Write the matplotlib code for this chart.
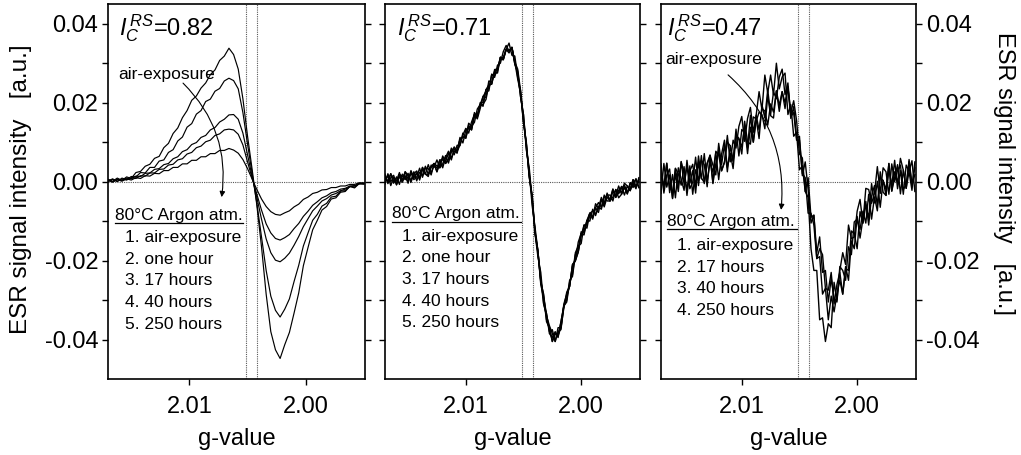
# esr_spectra.py
# ESR spectra after air-exposure and 80 C argon annealing, three samples

import matplotlib
matplotlib.use("Agg")
import matplotlib.pyplot as plt
from matplotlib.lines import Line2D
from matplotlib.ticker import FixedLocator, FormatStrFormatter

plt.rcParams["font.family"] = ["Liberation Sans", "DejaVu Sans"]
plt.rcParams["mathtext.fontset"] = "custom"
plt.rcParams["mathtext.rm"] = "Liberation Sans"
plt.rcParams["mathtext.it"] = "Liberation Sans:italic"

# g-value sampling (left panel read every 0.0004, others every 0.00025)
g_coarse = [2.0170, 2.0166, 2.0162, 2.0158, 2.0154, 2.0150, 2.0146, 2.0142, 2.0138, 2.0134,
            2.0130, 2.0126, 2.0122, 2.0118, 2.0114, 2.0110, 2.0106, 2.0102, 2.0098, 2.0094,
            2.0090, 2.0086, 2.0082, 2.0078, 2.0074, 2.0070, 2.0066, 2.0062, 2.0058, 2.0054,
            2.0050, 2.0046, 2.0042, 2.0038, 2.0034, 2.0030, 2.0026, 2.0022, 2.0018, 2.0014,
            2.0010, 2.0006, 2.0002, 1.9998, 1.9994, 1.9990, 1.9986, 1.9982, 1.9978, 1.9974,
            1.9970, 1.9966, 1.9962, 1.9958, 1.9954, 1.9950]
g_fine = [2.01700, 2.01675, 2.01650, 2.01625, 2.01600, 2.01575, 2.01550, 2.01525, 2.01500, 2.01475,
          2.01450, 2.01425, 2.01400, 2.01375, 2.01350, 2.01325, 2.01300, 2.01275, 2.01250, 2.01225,
          2.01200, 2.01175, 2.01150, 2.01125, 2.01100, 2.01075, 2.01050, 2.01025, 2.01000, 2.00975,
          2.00950, 2.00925, 2.00900, 2.00875, 2.00850, 2.00825, 2.00800, 2.00775, 2.00750, 2.00725,
          2.00700, 2.00675, 2.00650, 2.00625, 2.00600, 2.00575, 2.00550, 2.00525, 2.00500, 2.00475,
          2.00450, 2.00425, 2.00400, 2.00375, 2.00350, 2.00325, 2.00300, 2.00275, 2.00250, 2.00225,
          2.00200, 2.00175, 2.00150, 2.00125, 2.00100, 2.00075, 2.00050, 2.00025, 2.00000, 1.99975,
          1.99950, 1.99925, 1.99900, 1.99875, 1.99850, 1.99825, 1.99800, 1.99775, 1.99750, 1.99725,
          1.99700, 1.99675, 1.99650, 1.99625, 1.99600, 1.99575, 1.99550, 1.99525, 1.99500]

# intensities in units of 1e-3 a.u.
# sample 1, I_C^RS = 0.82
s1_air = [0.6, 0.1, 0.9, 0.3, 1.2, 0.8, 2.3, 2.6, 3.9, 4.4, 5.9, 6.4, 8.6, 9.7, 12.2, 13.6, 16.2, 18.0, 20.6, 21.7,
          23.7, 25.0, 27.1, 28.3, 30.7, 31.8, 33.8, 32.2, 28.5, 21.0, 11.5, 3.0, -6.0, -16.5, -28.5, -38.0, -42.6, -44.8, -41.3, -38.2,
          -33.3, -28.2, -21.3, -16.7, -12.2, -9.8, -7.2, -6.3, -4.4, -4.1, -2.7, -2.5, -1.2, -1.6, -0.5, -0.6]
s1_1h = [0.2, 0.7, 0.0, 0.9, 0.5, 1.3, 1.2, 2.3, 2.2, 3.6, 3.6, 5.2, 5.5, 7.4, 8.1, 10.3, 11.3, 13.8, 14.7, 17.1,
         18.0, 20.3, 20.9, 22.9, 23.6, 25.5, 26.2, 25.6, 23.5, 17.5, 9.5, 2.0, -5.5, -14.0, -22.5, -29.0, -32.6, -34.3, -32.3, -29.7,
         -25.3, -21.2, -16.3, -13.0, -9.8, -8.3, -6.2, -5.5, -3.9, -3.7, -2.4, -2.3, -1.2, -1.4, -0.4, -0.6]
s1_17h = [0.5, -0.1, 0.6, 0.3, 0.9, 0.7, 1.4, 1.3, 2.1, 2.2, 3.1, 3.3, 4.3, 4.6, 5.8, 6.3, 7.6, 8.1, 9.4, 9.9,
          11.2, 11.7, 13.1, 13.7, 15.1, 15.8, 16.9, 17.0, 15.8, 12.3, 6.8, 1.2, -4.0, -9.5, -14.5, -18.0, -19.9, -20.3, -19.4, -18.1,
          -16.1, -13.9, -11.4, -9.4, -7.4, -6.2, -4.9, -4.3, -3.4, -3.0, -2.3, -1.9, -1.3, -1.1, -0.6, -0.5]
s1_40h = [0.0, 0.6, 0.1, 0.7, 0.4, 1.0, 0.8, 1.5, 1.4, 2.2, 2.2, 3.1, 3.2, 4.2, 4.4, 5.5, 5.8, 7.0, 7.4, 8.6,
          9.0, 10.1, 10.5, 11.7, 12.1, 13.1, 13.3, 13.1, 12.0, 9.3, 5.0, 0.8, -3.2, -7.2, -10.7, -13.0, -14.4, -14.8, -14.2, -13.4,
          -11.9, -10.6, -8.8, -7.5, -6.0, -5.1, -4.1, -3.6, -2.8, -2.5, -1.9, -1.7, -1.1, -1.0, -0.5, -0.4]
s1_250h = [0.3, -0.1, 0.5, 0.1, 0.7, 0.4, 1.0, 0.8, 1.5, 1.4, 2.1, 2.0, 2.8, 2.8, 3.6, 3.6, 4.5, 4.5, 5.4, 5.4,
           6.3, 6.3, 7.1, 7.1, 7.9, 7.9, 8.4, 8.0, 7.2, 5.6, 3.3, 0.6, -2.0, -4.4, -6.3, -7.6, -8.3, -8.5, -7.9, -7.4,
           -6.4, -5.7, -4.5, -3.9, -3.0, -2.7, -2.1, -2.0, -1.5, -1.5, -1.1, -1.1, -0.7, -0.7, -0.3, -0.3]

# sample 2, I_C^RS = 0.71
s2_air = [1.4, 0.0, 2.0, -0.4, 1.2, -0.7, 1.9, 1.0, 0.1, 2.8, 1.0, 2.2, 0.4, 3.1, 1.9, 4.3, 2.2, 4.1, 3.5, 5.5,
          3.5, 6.1, 7.7, 6.0, 7.8, 7.2, 10.7, 11.3, 11.0, 14.8, 14.1, 15.0, 18.4, 19.5, 19.1, 23.3, 23.5, 27.2, 26.4, 29.5,
          30.0, 32.9, 34.5, 33.1, 34.0, 29.8, 27.5, 21.5, 17.0, 8.5, 2.5, -6.0, -11.5, -17.5, -25.0, -29.0, -35.5, -37.0, -40.5, -38.5,
          -39.0, -35.5, -31.5, -30.0, -25.0, -24.0, -18.5, -17.3, -12.7, -13.0, -10.3, -8.0, -9.5, -6.6, -5.3, -6.5, -3.4, -4.9, -4.9, -2.4,
          -3.5, -1.1, -3.2, -1.4, -3.1, -0.3, -0.5, -1.8, 1.0]
s2_1h = [-0.6, 2.0, 0.0, 1.1, -0.8, 1.8, 0.4, 2.5, 1.6, 0.3, 2.5, 0.2, 2.4, 1.6, 3.9, 1.8, 3.7, 4.6, 2.5, 4.5,
         6.0, 4.6, 5.7, 8.5, 6.8, 9.2, 9.2, 11.8, 13.5, 12.3, 15.1, 17.0, 15.9, 18.5, 21.6, 21.3, 25.5, 25.2, 27.9, 27.5,
         31.5, 30.9, 33.5, 35.1, 32.0, 31.8, 26.5, 23.0, 15.0, 9.5, 1.5, -4.0, -13.0, -19.0, -23.0, -31.0, -34.0, -36.5, -38.5, -40.5,
         -37.0, -37.0, -32.0, -28.0, -26.5, -21.0, -20.0, -17.8, -13.7, -11.0, -11.8, -8.0, -7.5, -8.1, -6.8, -4.0, -5.9, -3.4, -3.4, -4.9,
         -2.0, -3.1, -1.7, -0.9, -2.6, -1.8, 0.5, -1.3, 0.0]
s2_17h = [1.9, -0.5, 1.0, 1.6, -0.8, 1.3, -0.1, 2.5, 0.6, 2.3, 0.5, 1.2, 3.4, 1.1, 3.4, 3.3, 1.7, 4.6, 4.0, 3.5,
          6.5, 5.1, 7.2, 5.5, 8.3, 7.7, 10.7, 11.3, 11.5, 14.3, 13.1, 16.5, 16.4, 20.0, 20.1, 23.3, 24.5, 24.7, 27.9, 28.5,
          31.5, 31.4, 33.5, 32.6, 34.0, 30.3, 28.5, 23.0, 15.5, 9.5, 1.0, -3.5, -12.5, -17.5, -26.0, -29.5, -33.5, -38.5, -39.5, -38.0,
          -39.5, -35.5, -31.5, -30.5, -25.5, -23.5, -18.0, -16.3, -15.7, -11.0, -10.8, -8.5, -9.0, -5.6, -6.8, -4.5, -6.4, -3.9, -4.4, -1.9,
          -4.0, -2.6, -1.2, -3.4, -1.1, -2.3, 0.5, -1.3, 0.5]
s2_40h = [0.9, 0.0, 2.0, 0.1, -0.3, 1.8, 1.4, 0.5, 2.1, -0.2, 2.0, 2.7, 0.9, 3.6, 1.9, 1.8, 3.7, 4.6, 2.5, 5.5,
          5.5, 4.6, 5.7, 8.0, 8.3, 7.7, 11.2, 9.8, 13.0, 13.8, 13.6, 17.5, 16.4, 19.5, 21.6, 22.8, 23.0, 27.2, 26.9, 28.0,
          31.5, 30.9, 33.5, 33.1, 34.0, 29.8, 28.0, 21.5, 17.0, 8.0, 3.5, -4.5, -13.0, -17.5, -25.5, -28.5, -35.0, -37.0, -40.5, -38.5,
          -39.0, -37.0, -31.0, -28.5, -26.5, -21.5, -20.0, -15.3, -13.2, -12.5, -9.8, -10.0, -7.0, -8.6, -6.3, -7.0, -3.9, -3.9, -4.9, -1.9,
          -4.0, -2.1, -2.7, -0.4, -1.1, -2.3, -0.5, 0.7, -1.5]
s2_250h = [0.4, 1.5, -1.0, 1.1, 0.2, 2.3, -0.1, 1.5, -0.4, 2.3, 1.0, 2.2, 0.9, 3.6, 1.9, 1.3, 4.2, 3.6, 5.5, 3.5,
           4.5, 6.6, 4.7, 7.5, 8.8, 7.7, 9.2, 12.3, 11.0, 13.8, 13.1, 17.0, 16.9, 19.5, 19.6, 20.8, 24.5, 24.7, 28.4, 28.5,
           31.0, 30.9, 33.5, 33.1, 34.0, 30.3, 26.0, 22.5, 15.0, 10.0, 1.5, -3.5, -13.0, -18.0, -25.0, -31.0, -33.5, -38.0, -37.5, -40.5,
           -38.0, -37.5, -31.5, -29.0, -26.5, -21.0, -20.0, -17.8, -13.2, -13.5, -9.8, -8.0, -9.0, -6.6, -7.8, -4.5, -5.4, -2.9, -4.9, -3.9,
           -2.0, -4.1, -3.2, -1.4, -3.1, -0.3, -1.5, 0.7, -1.5]

# sample 3, I_C^RS = 0.47
s3_air = [-3.0, 4.6, -1.4, 1.7, -4.3, 3.3, -1.1, 5.0, 2.2, -2.2, 4.0, -3.2, 3.0, 0.3, 6.6, -0.5, 4.5, 6.5, -0.5, 4.5,
          8.0, 2.7, 4.9, 11.7, 5.0, 10.5, 8.5, 14.0, 16.5, 10.2, 16.0, 18.8, 12.5, 16.9, 22.8, 18.2, 27.0, 22.5, 27.0, 22.0,
          30.0, 23.5, 26.5, 27.5, 17.0, 19.5, 11.5, 12.5, 3.0, 4.0, -2.5, -4.0, -17.0, -22.5, -22.5, -35.0, -34.5, -40.5, -36.0, -37.0,
          -25.5, -30.0, -22.5, -18.0, -21.0, -11.0, -14.5, -14.0, -7.5, -4.5, -10.5, -1.7, -2.0, -5.5, -3.0, 3.8, -3.0, 3.5, 2.5, -3.2,
          4.5, 0.0, 2.9, 4.2, -2.0, -0.7, 5.1, -1.1, 1.8]
s3_17h = [3.0, -1.4, 4.6, -2.8, 1.8, -4.1, 3.5, 0.6, -2.2, 5.4, -0.4, 2.8, -2.9, 4.9, 0.7, 7.1, 0.0, 4.9, 2.4, 7.4,
          0.5, 7.0, 10.5, 3.6, 7.2, 3.3, 11.5, 10.7, 7.0, 15.3, 10.1, 9.5, 16.4, 15.9, 10.9, 19.5, 16.1, 23.3, 17.0, 22.7,
          21.0, 26.5, 28.5, 22.0, 25.0, 16.5, 17.5, 10.5, 10.5, 2.0, 1.0, -8.0, -8.0, -11.0, -19.5, -19.0, -28.5, -27.0, -35.0, -29.0,
          -33.0, -28.5, -25.0, -28.5, -21.5, -25.0, -15.0, -17.0, -8.8, -14.3, -9.5, -5.0, -11.0, -3.7, -1.0, -6.0, 2.5, -2.7, -3.5, 3.0,
          -1.0, 5.4, -1.8, 2.8, -3.2, 4.2, 2.5, -2.2, 5.0]
s3_40h = [4.5, -2.9, 1.7, 3.2, -4.2, 1.9, -2.5, 5.1, -0.7, 4.0, -1.8, -0.1, 6.2, -1.0, 5.4, 4.3, -1.3, 6.7, 4.2, 1.7,
          9.7, 4.3, 9.4, 2.5, 9.1, 5.2, 11.8, 11.0, 8.7, 13.9, 7.1, 13.8, 10.0, 16.8, 13.1, 18.5, 17.9, 14.3, 19.7, 17.6,
          23.0, 19.3, 22.8, 18.5, 24.0, 17.5, 20.5, 15.5, 7.0, 6.0, -2.5, 1.0, -9.0, -8.5, -19.5, -17.0, -18.5, -27.0, -27.5, -23.0,
          -31.0, -26.0, -23.0, -28.5, -22.0, -22.5, -12.5, -13.2, -17.0, -7.6, -10.5, -6.0, -9.2, -0.5, -5.4, 0.1, -6.5, 0.3, -2.0, 4.6,
          -2.4, 1.0, 4.3, -3.1, 2.9, -1.7, 5.6, -0.7, 3.5]
s3_250h = [1.5, -1.4, 4.7, -1.3, -2.7, 3.4, 2.0, -0.9, 3.8, -3.5, 2.7, 4.4, -1.3, 6.5, 0.9, -0.2, 4.7, 6.7, -0.3, 7.7,
           6.7, 2.8, 4.9, 10.0, 9.1, 5.2, 13.3, 6.5, 13.2, 12.4, 8.6, 16.8, 10.0, 15.3, 17.6, 17.0, 13.4, 21.8, 16.7, 16.1,
           23.0, 17.8, 22.8, 20.0, 24.0, 16.0, 19.0, 11.0, 11.5, 1.5, 5.0, -2.0, -10.5, -8.5, -18.0, -14.0, -23.0, -22.5, -30.5, -24.5,
           -29.5, -30.5, -21.5, -22.5, -25.0, -16.5, -18.5, -10.2, -9.5, -12.1, -7.5, -10.5, -3.2, -9.5, -3.9, -7.4, 1.0, 0.3, -3.5, 4.6,
           -2.4, 2.5, -0.2, 5.9, 2.9, -1.7, 2.6, 5.3, -2.5]

panel_titles = ["0.82", "0.71", "0.47"]
legend_1 = ["1. air-exposure", "2. one hour", "3. 17 hours", "4. 40 hours", "5. 250 hours"]
legend_3 = ["1. air-exposure", "2. 17 hours", "3. 40 hours", "4. 250 hours"]
marker_lines = [2.0051, 2.0042]

W, H = 1021, 455
fig = plt.figure(figsize=(W / 100, H / 100), dpi=100)
boxes = [(108, 365), (385, 640), (661, 916)]
axes = [fig.add_axes([l / W, (H - 379) / H, (r - l) / W, 375 / H]) for l, r in boxes]

series = [
    (g_coarse, [s1_air, s1_1h, s1_17h, s1_40h, s1_250h], 0.85),
    (g_fine, [s2_air, s2_1h, s2_17h, s2_40h, s2_250h], 1.0),
    (g_fine, [s3_air, s3_17h, s3_40h, s3_250h], 1.0),
]

for i, (ax, (g, curves, lw)) in enumerate(zip(axes, series)):
    for c in curves:
        ax.plot(g, [v * 1e-3 for v in c], color="black", lw=lw)
    ax.axhline(0, color="0.35", lw=0.8, ls=(0, (1, 1)), zorder=0)
    for gv in marker_lines:
        ax.axvline(gv, color="0.35", lw=0.8, ls=(0, (1, 1)), zorder=0)

    ax.set_xlim(2.0170, 1.9949)
    ax.set_ylim(-0.05, 0.045)
    ax.xaxis.set_major_locator(FixedLocator([2.01, 2.00]))
    ax.xaxis.set_major_formatter(FormatStrFormatter("%.2f"))
    ax.yaxis.set_major_locator(FixedLocator([-0.04, -0.02, 0.0, 0.02, 0.04]))
    ax.yaxis.set_minor_locator(FixedLocator([-0.03, -0.01, 0.01, 0.03]))
    ax.yaxis.set_major_formatter(FormatStrFormatter("%.2f"))
    ax.tick_params(which="both", direction="out", length=4, width=1, labelsize=17)
    ax.tick_params(axis="y", which="both", left=True, right=True,
                   labelleft=(i == 0), labelright=(i == 2), pad=3)
    ax.tick_params(axis="x", top=False, pad=8)
    for sp in ax.spines.values():
        sp.set_linewidth(1.2)
    ax.set_xlabel("g-value", fontsize=17)
    ax.xaxis.set_label_coords(0.5, -0.13)

# sample labels and annotations
title_x = [0.043, 0.046, 0.024]
for ax, t, x in zip(axes, panel_titles, title_x):
    ax.text(x, 0.917, r"$I_C^{\,RS}$=" + t, transform=ax.transAxes, fontsize=17, va="baseline")

legend_layout = [
    (axes[0], legend_1, 0.027, 0.525, 0.424, 0.066, [0.365, 0.307, 0.251, 0.192, 0.133]),
    (axes[1], legend_1, 0.026, 0.532, 0.429, 0.065, [0.368, 0.312, 0.253, 0.195, 0.139]),
    (axes[2], legend_3, 0.024, 0.533, 0.408, 0.063, [0.344, 0.286, 0.229, 0.171]),
]
for ax, items, hx, ux, hy, ix, iys in legend_layout:
    ax.text(hx, hy, "80°C Argon atm.", transform=ax.transAxes, fontsize=12.5, va="baseline")
    ax.add_line(Line2D([hx, ux], [hy - 0.009, hy - 0.009], transform=ax.transAxes,
                       color="black", lw=0.9))
    for s, y in zip(items, iys):
        ax.text(ix, y, s, transform=ax.transAxes, fontsize=12.5, va="baseline")

for ax, tx, ty, start, end in [(axes[0], 0.040, 0.813, (0.292, 0.789), (0.442, 0.485)),
                               (axes[2], 0.016, 0.851, (0.263, 0.811), (0.471, 0.451))]:
    ax.text(tx, ty, "air-exposure", transform=ax.transAxes, fontsize=12.5, va="center")
    ax.annotate("", xy=end, xytext=start, xycoords="axes fraction",
                arrowprops=dict(arrowstyle="-|>", connectionstyle="arc3,rad=-0.25",
                                color="black", lw=0.8, mutation_scale=8,
                                shrinkA=0, shrinkB=0))

ylab = "ESR signal intensity   [a.u.]"
fig.text(21 / W, 1 - 189 / H, ylab, rotation=90, ha="center", va="center", fontsize=17.5)
fig.text(1003.5 / W, 1 - 173.5 / H, ylab, rotation=270, ha="center", va="center", fontsize=17)

fig.savefig("out.png", dpi=100)
